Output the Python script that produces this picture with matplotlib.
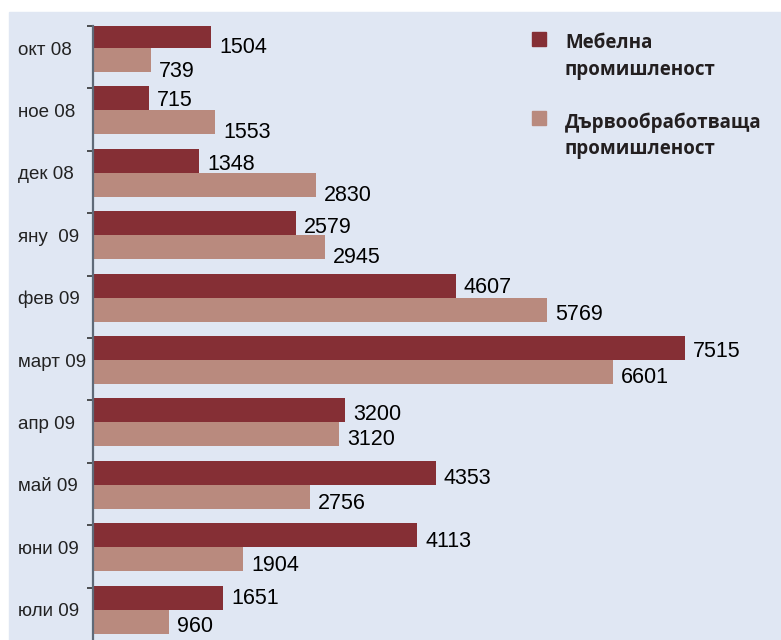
import numpy as np
import matplotlib.pyplot as plt
from matplotlib.patches import Rectangle

# Data
months = ["окт 08", "ное 08", "дек 08", "яну  09", "фев 09",
          "март 09", "апр 09", "май 09", "юни 09", "юли 09"]
furniture = [1504, 715, 1348, 2579, 4607, 7515, 3200, 4353, 4113, 1651]
woodwork = [739, 1553, 2830, 2945, 5769, 6601, 3120, 2756, 1904, 960]
labels = ["Мебелна\nпромишленост", "Дървообработваща\nпромишленост"]

# value labels in the original were nudged down by hand (pixels)
nudge_f = [9, 0, 1.5, 2, 0, 1, 2, 3.5, 4, -1]
nudge_w = [9.5, 8.5, 9, 8, 2.5, 3, 3.5, 4.5, 4, 3]

DARK = "#852f35"
LIGHT = "#b98a7e"
BG = "#e0e7f3"

fig = plt.figure(figsize=(7.81, 6.40), dpi=100)
fig.patch.set_facecolor("white")
# blue panel behind everything
fig.patches.append(Rectangle((9 / 781, 0), 1, (640 - 12) / 640,
                             transform=fig.transFigure, color=BG, zorder=-5))

ax = fig.add_axes([93 / 781, 0, 1 - 93 / 781, (640 - 26) / 640])
ax.patch.set_alpha(0)

y = np.arange(len(months))
h = 0.385
ax.barh(y - h / 2, furniture, height=h, color=DARK, zorder=2)
ax.barh(y + h / 2, woodwork, height=h, color=LIGHT, zorder=2)

for i in range(len(months)):
    ax.annotate(str(furniture[i]), (furniture[i], y[i] - h / 2),
                xytext=(8, -(nudge_f[i] + 7.5)), textcoords="offset pixels",
                va="baseline", ha="left", fontsize=15.5, family="Liberation Sans")
    ax.annotate(str(woodwork[i]), (woodwork[i], y[i] + h / 2),
                xytext=(8, -(nudge_w[i] + 7.5)), textcoords="offset pixels",
                va="baseline", ha="left", fontsize=15.5, family="Liberation Sans")

ax.set_xlim(0, 8733)
ax.set_ylim(9.487, -0.353)

for s in ["top", "right", "bottom"]:
    ax.spines[s].set_visible(False)
ax.spines["left"].set_color("#5f6a78")
ax.spines["left"].set_linewidth(1.6)

ax.set_xticks([])
ax.set_yticks(y)
ax.set_yticklabels(months, fontsize=13.5, family="Liberation Sans",
                   color="#222222", ha="left")
ax.tick_params(axis="y", which="major", length=0, pad=54)
ax.set_yticks(y - 0.353, minor=True)
ax.tick_params(axis="y", which="minor", length=4.5, width=1.2, color="#333333")

# legend drawn by hand to keep the square beside the first line
for k, (lab, col) in enumerate(zip(labels, [DARK, LIGHT])):
    top = [32, 111][k]
    fig.patches.append(Rectangle((532 / 781, 1 - (top + 14) / 640), 14 / 781, 14 / 640,
                                 transform=fig.transFigure, color=col, zorder=3))
    fig.text(565 / 781, 1 - (top + 1.5) / 640, lab, ha="left", va="top",
             fontsize=13.5, fontweight="bold", family="Open Sans",
             color="#231f20", linespacing=1.4)

fig.savefig("out.png", dpi=100, facecolor=fig.get_facecolor())
